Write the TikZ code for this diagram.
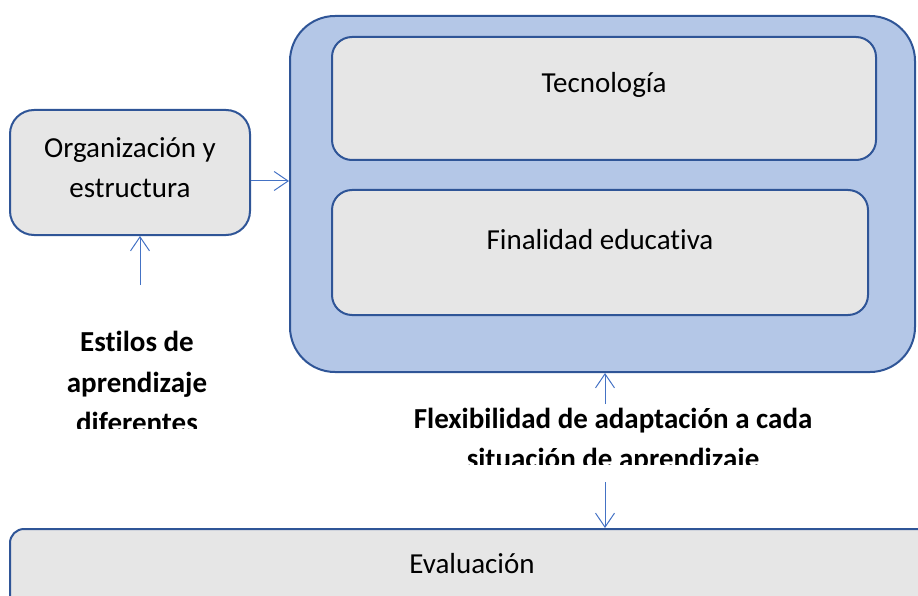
\documentclass[tikz,border=0pt]{standalone}
\usepackage{fontspec}
\setmainfont{Carlito}[Ligatures=NoCommon]
\usetikzlibrary{arrows.meta}
\definecolor{bordc}{HTML}{2F5597}
\definecolor{outerc}{HTML}{B4C7E7}
\definecolor{innerc}{HTML}{E6E6E6}
\definecolor{arrc}{HTML}{4472C4}
\tikzset{
  box/.style={draw=bordc, line width=2pt, fill=innerc, rectangle, rounded corners=#1, inner sep=0pt},
  box/.default=22pt,
  lbl/.style={font=\fontsize{29}{40}\selectfont, text=black, align=center, inner sep=0pt},
  blbl/.style={font=\fontsize{29}{40.5}\selectfont\bfseries, text=black, align=center, inner sep=0pt},
  conn/.style={draw=arrc, line width=1pt, -{Straight Barb[length=14pt,width=19pt,line width=1pt]}},
}
\begin{document}
\begin{tikzpicture}[x=1pt,y=-1pt]
\useasboundingbox (0,0) rectangle (918,596);
\begin{scope}
\clip (0,0) rectangle (918,596);
% outer container
\node[box=45pt, fill=outerc, minimum width=625pt, minimum height=356pt] (outer) at (602.5,194) {};
\node[box=20pt, minimum width=544pt, minimum height=123pt] (tec) at (604,98.5) {};
\node[lbl] (tect) at (604,85) {Tecnología};
\node[box=20pt, minimum width=536pt, minimum height=125pt] (fin) at (600,252.5) {};
\node[lbl] (fint) at (600,240) {Finalidad educativa};
% left box
\node[box=24pt, minimum width=240pt, minimum height=125pt] (org) at (130,172.5) {};
\node[lbl] (orgt) at (130,168) {Organización y\\estructura};
% bottom box
\node[box=14pt, minimum width=940pt, minimum height=100pt] (eva) at (480,579) {};
\node[lbl] (evat) at (472,564) {Evaluación};
\end{scope}
% clipped bold labels
\begin{scope}
\clip (0,300) rectangle (300,428);
\node[blbl] (est) at (137,382) {Estilos de\\aprendizaje\\diferentes};
\end{scope}
\begin{scope}
\clip (380,400) rectangle (880,464);
\node[blbl] (flex) at (613,441) {Flexibilidad de adaptación a cada\\situación de aprendizaje};
\end{scope}
% connectors
\coordinate (c1) at (140,285);
\coordinate (c2) at (605,404);
\coordinate (c3) at (605,482);
\draw[conn] (org.east |- 0,181) -- (outer.west |- 0,181);
\draw[conn] (c1) -- (c1 |- org.south);
\draw[conn] (c2) -- (c2 |- outer.south);
\draw[conn] (c3) -- (c3 |- eva.north);
\end{tikzpicture}
\end{document}
